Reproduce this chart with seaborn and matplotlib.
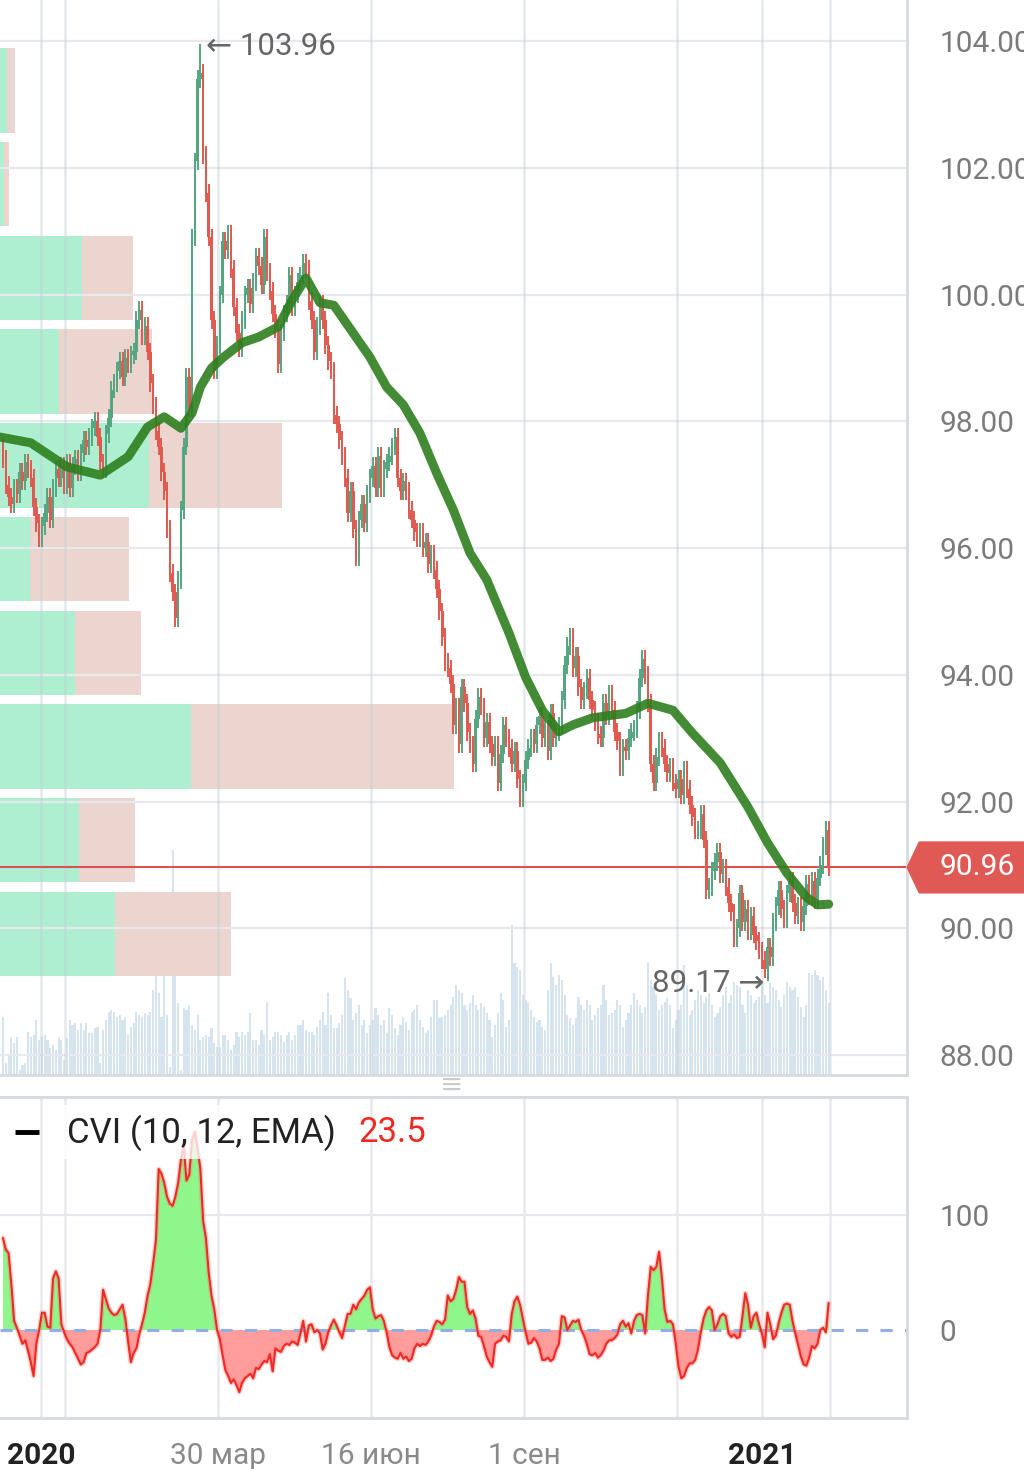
import numpy as np
import pandas as pd
import matplotlib
matplotlib.use("Agg")
import matplotlib.pyplot as plt
import matplotlib.transforms as mtransforms
from matplotlib.patches import Polygon
import seaborn as sns

# =====================================
# Data
# =====================================

closes = [
    97.4, 97.0, 96.8, 96.7, 96.95, 96.85, 97.2, 97.05, 97.35, 97.25,
    97.1, 96.65, 96.4, 96.15, 96.35, 96.55, 96.8, 96.45, 96.95, 97.25,
    97.1, 97.3, 97.0, 97.35, 96.95, 97.3, 97.4, 97.2, 97.5, 97.7,
    97.6, 97.75, 97.9, 98.0, 97.75, 97.35, 97.25, 97.8, 98.05, 98.5,
    98.6, 98.8, 98.95, 98.7, 99.0, 98.9, 99.05, 99.1, 99.6, 99.75,
    99.35, 99.5, 99.1, 98.6, 98.25, 97.85, 97.6, 97.2, 96.9, 96.3,
    95.6, 95.3, 94.9, 95.5, 96.6, 97.6, 98.7, 98.2, 100.9, 102.1,
    103.4, 103.5, 102.2, 101.6, 100.9, 99.6, 98.8, 99.2, 100.0, 100.85,
    100.7, 100.95, 100.4, 99.8, 99.4, 99.15, 99.6, 100.0, 100.1, 99.85,
    100.2, 100.6, 100.45, 100.15, 100.9, 100.35, 100.05, 99.7, 99.45, 98.9,
    99.4, 99.7, 99.85, 100.3, 99.8, 100.0, 100.2, 100.3, 100.5, 100.4,
    99.9, 99.6, 99.1, 99.5, 99.85, 99.6, 99.2, 98.95, 98.8, 98.1,
    97.95, 97.7, 97.45, 97.1, 96.55, 96.9, 96.3, 95.85, 96.45, 96.7,
    96.4, 96.85, 97.1, 97.3, 96.95, 97.45, 96.95, 97.25, 97.35, 97.45,
    97.6, 97.75, 97.1, 96.9, 97.05, 96.9, 96.6, 96.45, 96.25, 96.15,
    96.25, 96.0, 96.1, 95.75, 95.9, 95.65, 95.35, 95.0, 94.6, 94.2,
    94.1, 93.85, 93.2, 93.5, 92.9, 93.8, 93.55, 93.1, 92.9, 92.6,
    93.3, 93.65, 93.5, 93.0, 93.25, 92.9, 92.7, 92.9, 92.3, 92.75,
    93.2, 93.0, 92.85, 92.6, 92.8, 92.35, 92.05, 92.3, 92.65, 92.85,
    93.0, 92.9, 93.2, 93.35, 93.0, 93.15, 92.8, 93.4, 93.0, 93.1,
    93.2, 93.6, 94.15, 94.45, 94.6, 94.1, 94.3, 93.8, 93.6, 93.75,
    93.95, 93.6, 93.45, 93.25, 93.05, 93.0, 93.55, 93.35, 93.7, 93.45,
    93.1, 92.95, 92.55, 92.85, 92.8, 93.0, 93.1, 93.15, 93.45, 93.95,
    94.25, 94.0, 93.55, 92.6, 92.3, 92.7, 92.95, 92.85, 92.6, 92.45,
    92.55, 92.3, 92.2, 92.35, 92.1, 92.5, 92.2, 91.95, 91.75, 91.55,
    91.55, 91.8, 91.4, 90.6, 90.65, 90.9, 91.05, 91.2, 90.85, 90.95,
    90.65, 90.4, 90.25, 89.85, 90.0, 90.55, 90.1, 90.3, 89.95, 90.2,
    89.9, 89.8, 89.65, 89.5, 89.35, 89.7, 89.55, 90.1, 90.35, 90.6,
    90.3, 90.15, 90.55, 90.75, 90.4, 90.2, 90.35, 90.1, 90.35, 90.7,
    90.5, 90.75, 90.45, 90.8, 91.0, 91.3, 91.55, 90.96,
]
first_open = 97.6

volumes = [
    58, 12, 20, 38, 32, 38, 5, 10, 12, 43,
    38, 40, 55, 35, 38, 40, 35, 27, 30, 25,
    38, 35, 15, 37, 55, 50, 52, 45, 52, 45,
    52, 42, 42, 47, 48, 12, 45, 55, 63, 65,
    63, 58, 60, 55, 58, 40, 48, 52, 63, 60,
    58, 62, 60, 63, 85, 113, 82, 58, 102, 60,
    8, 225, 125, 72, 5, 67, 65, 70, 50, 45,
    60, 35, 38, 40, 38, 47, 32, 28, 28, 40,
    40, 35, 25, 30, 43, 38, 43, 40, 43, 62,
    35, 35, 30, 45, 40, 73, 35, 38, 43, 43,
    40, 33, 40, 43, 35, 40, 50, 50, 55, 45,
    43, 43, 40, 48, 55, 63, 50, 82, 60, 47,
    47, 52, 60, 97, 85, 77, 55, 62, 70, 50,
    55, 42, 50, 55, 67, 60, 50, 55, 42, 67,
    60, 47, 40, 50, 58, 53, 45, 63, 65, 70,
    55, 48, 42, 45, 58, 75, 75, 57, 58, 60,
    65, 70, 78, 90, 85, 82, 70, 65, 72, 80,
    70, 65, 72, 68, 62, 55, 38, 50, 62, 82,
    75, 48, 55, 150, 112, 108, 105, 80, 75, 72,
    65, 58, 53, 55, 48, 45, 85, 112, 98, 90,
    100, 95, 80, 60, 57, 50, 57, 78, 70, 65,
    75, 70, 55, 60, 67, 70, 90, 75, 60, 62,
    65, 75, 70, 48, 55, 62, 70, 82, 75, 70,
    62, 68, 113, 95, 88, 80, 65, 70, 73, 77,
    70, 47, 55, 65, 70, 110, 90, 60, 65, 75,
    85, 80, 72, 78, 82, 70, 58, 62, 68, 80,
    88, 72, 80, 93, 90, 88, 70, 62, 85, 80,
    72, 75, 78, 92, 80, 72, 92, 88, 85, 75,
    68, 80, 93, 88, 85, 88, 78, 68, 58, 70,
    102, 100, 105, 100, 95, 98, 85, 72,
]

cvi = [
    80, 70, 67, 40, 8, 2, -5, -12, -9, -18,
    -28, -40, -12, 0, 15, 15, 3, 2, 45, 51,
    45, 5, -2, -8, -12, -15, -20, -25, -30, -28,
    -20, -19, -17, -15, -12, 0, 35, 27, 19, 15,
    13, 14, 18, 22, 10, -10, -28, -20, -16, -4,
    5, 15, 30, 40, 58, 78, 140, 136, 128, 116,
    110, 108, 116, 128, 148, 160, 130, 135, 165, 172,
    158, 140, 95, 80, 50, 30, 18, 0, -8, -22,
    -35, -40, -46, -43, -48, -54, -46, -42, -40, -38,
    -42, -33, -34, -30, -27, -28, -21, -36, -16, -18,
    -19, -14, -12, -13, -10, -11, -13, -3, 8, -10,
    4, 5, -2, 0, -3, -17, -12, -2, 4, 9,
    4, -2, -7, 4, 14, 14, 22, 18, 24, 27,
    30, 35, 37, 18, 10, 12, 13, 8, -2, -15,
    -22, -24, -25, -20, -25, -23, -27, -25, -16, -12,
    -14, -12, -13, -10, -5, 3, 8, 7, 5, 9,
    30, 25, 27, 35, 46, 42, 42, 20, 14, 17,
    10, -5, -6, -14, -23, -28, -32, -12, -10, -9,
    -5, -6, -10, 14, 25, 29, 22, 10, -2, -12,
    -11, -7, -10, -16, -26, -26, -24, -27, -25, -17,
    -12, 12, 11, 0, 4, 8, 7, 9, 0, -5,
    -12, -21, -22, -20, -24, -22, -18, -12, -9, -9,
    -7, -4, 5, 8, 3, 6, -3, 8, 13, 14,
    13, -3, 30, 55, 52, 55, 68, 46, 18, 7,
    8, 5, -12, -32, -42, -40, -33, -29, -29, -26,
    -17, -2, 10, 17, 20, 17, 0, 5, 12, 14,
    12, -3, -6, -4, -7, -6, 12, 32, 22, 2,
    12, 15, 5, -3, -15, 15, 5, -8, -5, 6,
    15, 22, 23, 22, 8, -3, -13, -23, -30, -31,
    -24, -14, -16, -12, 0, 2, -2, 23.5,
]

# moving average (green line)
ma_idx = [-1, 10, 23, 35, 45, 52, 58, 64, 68, 71, 75, 79, 86, 92, 99,
          104, 109, 114, 119, 126, 132, 138, 144, 150, 156, 162, 168, 174,
          182, 188, 194, 200, 205, 212, 224, 232, 241, 248, 258, 268, 275,
          282, 289, 293, 297]
ma_val = [97.75, 97.66, 97.28, 97.15, 97.44, 97.91, 98.07, 97.89, 98.13,
          98.54, 98.84, 99.0, 99.24, 99.33, 99.49, 99.91, 100.26, 99.87,
          99.83, 99.39, 99.01, 98.54, 98.26, 97.81, 97.18, 96.6, 95.92,
          95.5, 94.66, 93.96, 93.44, 93.1, 93.21, 93.32, 93.39, 93.55,
          93.44, 93.08, 92.61, 91.91, 91.35, 90.87, 90.49, 90.37, 90.38]

# volume profile, bins from low to high price
profile_buy = [115, 79, 191, 75, 30, 149, 59, 82, 4, 7]
profile_sell = [116, 56, 262, 66, 99, 133, 93, 51, 5, 8]

peak_idx, peak_high = 71, 103.96
trough_idx, trough_low = 275, 89.17

price_ticks = [88, 90, 92, 94, 96, 98, 100, 102, 104]
cvi_ticks = [0, 100]
date_pos = [13.7, 77.3, 132.4, 187.4, 273.0]
date_labels = ["2020", "30 мар", "16 июн", "1 сен", "2021"]
grid_pos = [13.7, 22.3, 77.3, 132.4, 187.4, 242.4, 273.0, 297.5]

# =====================================
# Candles
# =====================================

df = pd.DataFrame({"close": closes, "volume": volumes, "cvi": cvi})
df["open"] = df["close"].shift(1).fillna(first_open)
df["high"] = df[["open", "close"]].max(axis=1) + 0.14
df["low"] = df[["open", "close"]].min(axis=1) - 0.14
df.loc[peak_idx, "high"] = peak_high
df.loc[trough_idx, "low"] = trough_low
idx = np.arange(len(df))

GREEN = "#55a680"
RED = "#e05a50"
cols = np.where(df["close"] >= df["open"], GREEN, RED)

# =====================================
# Figure
# =====================================

sns.set_theme(style="white")
plt.rcParams["font.family"] = ["Roboto", "DejaVu Sans"]

W, H = 1024, 1469
fig = plt.figure(figsize=(W / 100, H / 100), dpi=100)
fig.patch.set_facecolor("white")
ax = fig.add_axes([0, 1 - 1075 / H, 907 / W, 1075 / H])
ax2 = fig.add_axes([0, (H - 1418) / H, 907 / W, 321 / H])

xlim = (-1.08, 325.18)
GRID = "#e6e9ed"
SPINE = "#d7dade"
TICKC = "#7b7b7b"

# ---- volume bars (bottom of price panel)
vol = df["volume"].to_numpy(float)
ax.bar(idx, vol / vol.max() * 0.209, width=0.75, bottom=0,
       transform=ax.get_xaxis_transform(), color="#d6e4ef", zorder=0.8,
       linewidth=0)

# ---- volume profile
edges = np.linspace(df["low"].min(), df["high"].max(), 11)
centers = (edges[:-1] + edges[1:]) / 2
bh = (edges[1] - edges[0]) * 0.9
buy = np.array(profile_buy, float)
sell = np.array(profile_sell, float)
scale = (xlim[1] - xlim[0]) * 0.5 / (buy + sell).max()
ax.barh(centers, buy * scale, height=bh, left=xlim[0], color="#aeefd2",
        zorder=1, linewidth=0)
ax.barh(centers, sell * scale, height=bh, left=xlim[0] + buy * scale,
        color="#ebd5ce", zorder=1, linewidth=0)

# ---- grid
for p in price_ticks:
    ax.axhline(p, color=GRID, lw=1.6, zorder=1.5)
for g in grid_pos:
    ax.axvline(g, color="#c5ced6", alpha=0.45, lw=1.8, zorder=1.5)
    ax2.axvline(g, color=GRID, lw=1.8, zorder=0.5)
ax2.axhline(100, color=GRID, lw=1.6, zorder=0.5)

# ---- last price line
last = df["close"].iloc[-1]
ax.axhline(last, color="#d9534f", lw=1.5, zorder=2.5)

# ---- candles
ax.vlines(idx, df["low"], df["high"], colors=cols, lw=1.4, zorder=3)
body = np.maximum((df["close"] - df["open"]).abs(), 0.06)
ax.bar(idx, body, bottom=df[["open", "close"]].min(axis=1), width=0.92,
       color=cols, zorder=3, linewidth=0)

# ---- moving average
sns.lineplot(x=ma_idx, y=ma_val, ax=ax, color="#2e7f1e", linewidth=6.5,
             alpha=0.9, zorder=4, solid_joinstyle="round",
             solid_capstyle="round")

# ---- extreme annotations
ax.annotate(f"\u2190 {peak_high:.2f}", xy=(peak_idx, peak_high),
            xytext=(4, -2), textcoords="offset points", va="center",
            ha="left", fontsize=22.5, color="#666666", zorder=5)
ax.annotate(f"{trough_low:.2f} \u2192", xy=(trough_idx, trough_low),
            xytext=(-2, -2), textcoords="offset points", va="center",
            ha="right", fontsize=22.5, color="#666666", zorder=5)

# ---- last price tag
trans = mtransforms.blended_transform_factory(ax.transAxes, ax.transData)
hh = 0.39
tag = Polygon([(1.001, last), (1.014, last + hh), (1.2, last + hh),
               (1.2, last - hh), (1.014, last - hh)], closed=True,
              transform=trans, facecolor="#e05a55", edgecolor="#e05a55",
              lw=2, joinstyle="round", clip_on=False, zorder=6)
ax.add_patch(tag)
ax.text(1.036, last, f"{last:.2f}", transform=trans, va="center",
        ha="left", fontsize=21.5, color="white", clip_on=False, zorder=7)

# ---- price axis styling
ax.set_xlim(*xlim)
ax.set_ylim(87.685, 104.647)
ax.yaxis.tick_right()
ax.set_yticks(price_ticks)
ax.set_yticklabels([f"{p:.2f}" for p in price_ticks])
ax.tick_params(axis="y", length=0, pad=23.5, labelsize=21.5, labelcolor=TICKC)
ax.set_xticks([])
ax.set_xlabel("")
ax.set_ylabel("")
for s in ["top", "left"]:
    ax.spines[s].set_visible(False)
for s in ["right", "bottom"]:
    ax.spines[s].set_color(SPINE)
    ax.spines[s].set_linewidth(2)

# =====================================
# CVI panel
# =====================================

cv = df["cvi"].to_numpy(float)
ax2.fill_between(idx, cv, 0, where=cv >= 0, interpolate=True,
                 color="#8ff68b", lw=0, zorder=1)
ax2.fill_between(idx, cv, 0, where=cv < 0, interpolate=True,
                 color="#ff9d9d", lw=0, zorder=1)
ax2.axhline(0, color="#93aee6", lw=2.2, ls=(0, (4, 4)), zorder=1.5)
sns.lineplot(x=idx, y=cv, ax=ax2, color="#ff7070", linewidth=3.5,
             alpha=0.35, zorder=2)
sns.lineplot(x=idx, y=cv, ax=ax2, color="#ee2a22", linewidth=1.5, zorder=2.5)

ax2.set_xlim(*xlim)
ax2.set_ylim(-76.5, 202.6)
ax2.yaxis.tick_right()
ax2.set_yticks(cvi_ticks)
ax2.set_yticklabels([str(t) for t in cvi_ticks])
ax2.tick_params(axis="y", length=0, pad=23.5, labelsize=21.5, labelcolor=TICKC)
ax2.set_xticks(date_pos)
ax2.set_xticklabels(date_labels)
ax2.tick_params(axis="x", length=0, pad=17, labelsize=21.5,
                labelcolor="#8a8a8a")
for lab in ax2.get_xticklabels():
    if lab.get_text().isdigit():
        lab.set_color("#222222")
        lab.set_fontweight("bold")
ax2.set_xlabel("")
ax2.set_ylabel("")
ax2.spines["left"].set_visible(False)
for s in ["top", "right", "bottom"]:
    ax2.spines[s].set_color(SPINE)
    ax2.spines[s].set_linewidth(2)

# legend-like label
ax2.plot([0.017, 0.043], [0.892, 0.892], transform=ax2.transAxes,
         color="black", lw=3.5, solid_capstyle="butt", zorder=6)
ax2.text(0.074, 0.89, "CVI (10, 12, EMA)", transform=ax2.transAxes,
         va="center", ha="left", fontsize=25, color="#222222", zorder=6,
         bbox=dict(boxstyle="square,pad=0.25", fc="white", ec="none",
                   alpha=0.78))
ax2.text(0.395, 0.89, f"{cv[-1]:.1f}", transform=ax2.transAxes,
         va="center", ha="left", fontsize=25, color="#ee2a22", zorder=6)

# separator handle
fig.text(452 / W, 1 - 1085 / H, "\u2261", ha="center", va="center",
         color="#cccccc", fontsize=20, family="DejaVu Sans")

fig.savefig("out.png", dpi=100)
